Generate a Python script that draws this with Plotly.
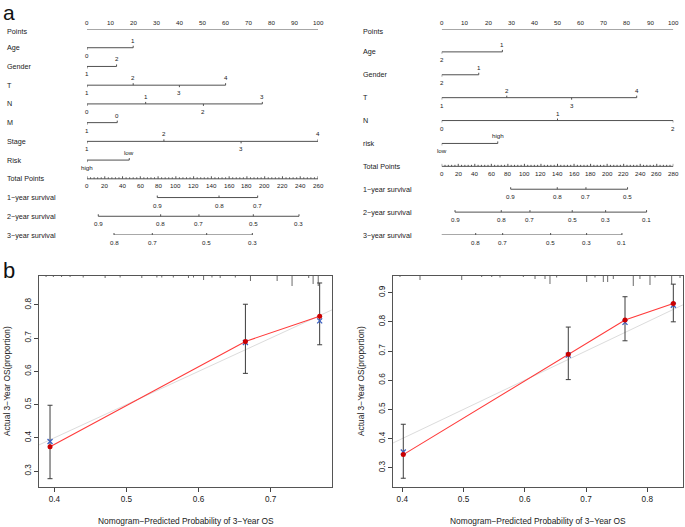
import plotly.graph_objects as go

W, H = 685, 527
FONT = "Liberation Sans, Arial, sans-serif"
TXT = "#1a1a1a"
NOMO_LINE = "#505050"

# ---------------- Nomogram a (left) ----------------
A_vars = ["Age", "Gender", "T", "N", "M", "Stage", "Risk"]
A_levels = [["0", "1"], ["1", "2"], ["1", "2", "3", "4"], ["0", "1", "2", "3"],
            ["1", "0"], ["1", "2", "3", "4"], ["high", "low"]]
A_points = [[0, 20], [0, 12.8], [0, 20, 40, 60], [0, 25.4, 50.4, 75.9],
            [0, 13.1], [0, 33.3, 66.7, 100], [0, 18.3]]
A_total_max = 260
A_surv_names = ["1\u2212year survival", "2\u2212year survival", "3\u2212year survival"]
A_surv_labels = [["0.9", "0.8", "0.7"],
                 ["0.9", "0.8", "0.7", "0.5", "0.3"],
                 ["0.8", "0.7", "0.5", "0.3"]]
A_surv_total = [[79.1, 148.6, 192.1],
                [12.7, 82.9, 126.0, 187.2, 238.6],
                [30.4, 73.5, 134.7, 186.1]]

# ---------------- Nomogram a (right) ----------------
B_vars = ["Age", "Gender", "T", "N", "risk"]
B_levels = [["2", "1"], ["2", "1"], ["1", "2", "3", "4"], ["0", "1", "2"], ["low", "high"]]
B_points = [[0, 26.2], [0, 16.0], [0, 28.1, 56.1, 84.2], [0, 50, 100], [0, 24.2]]
B_total_max = 280
B_surv_names = ["1\u2212year survival", "2\u2212year survival", "3\u2212year survival"]
B_surv_labels = [["0.9", "0.8", "0.7", "0.5"],
                 ["0.9", "0.8", "0.7", "0.5", "0.3", "0.1"],
                 ["0.9", "0.8", "0.7", "0.5", "0.3", "0.1"]]
B_surv_total = [[83.4, 139.7, 174.4, 224.7],
                [16.1, 72.0, 106.7, 157.8, 198.2, 247.7],
                [-14.1, 41.1, 73.7, 131.7, 175.2, 217.9]]

# ---------------- Calibration b (left) ----------------
C1_pred = [0.394, 0.665, 0.768]
C1_obs = [0.373, 0.690, 0.766]
C1_km = [0.389, 0.687, 0.752]
C1_lo = [0.277, 0.594, 0.680]
C1_hi = [0.498, 0.802, 0.866]
C1_rug_x = [0.3885, 0.3986, 0.410, 0.4218, 0.440, 0.4704, 0.4912, 0.5213, 0.5422, 0.549,
            0.565, 0.586, 0.593, 0.607, 0.6186, 0.630, 0.651, 0.672, 0.709, 0.7297,
            0.7528, 0.7589, 0.766]
C1_rug_n = [1, 1, 1, 1, 1.5, 2, 1.5, 2, 1.5, 1.5, 1.5, 2, 1.5, 4, 1.5, 2, 1.5, 5, 5, 10, 2, 8, 10]

# ---------------- Calibration b (right) ----------------
C2_pred = [0.4016, 0.671, 0.7636, 0.8425]
C2_obs = [0.345, 0.689, 0.806, 0.863]
C2_km = [0.354, 0.686, 0.798, 0.857]
C2_lo = [0.264, 0.602, 0.735, 0.800]
C2_hi = [0.449, 0.782, 0.886, 0.929]
C2_rug_x = [0.3962, 0.4289, 0.497, 0.5296, 0.546, 0.5595, 0.5976, 0.6167, 0.633, 0.6411,
            0.652, 0.701, 0.7146, 0.7282, 0.7353, 0.7445, 0.7771, 0.788, 0.8044, 0.8126,
            0.8398, 0.8534]
C2_rug_n = [1, 4, 4, 1, 1, 1.5, 1, 3, 3, 8, 1.5, 6, 1.5, 6, 6, 3, 10, 3, 9, 1.5, 8, 2]

X_TITLE = "Nomogram\u2212Predicted Probability of 3\u2212Year OS"
Y_TITLE = "Actual 3\u2212Year OS(proportion)"

fig = go.Figure()
ann = []


def draw_nomogram(xn, yn, x0px, x1px, ytop, ybot, labx, vars_, levels, pts,
                  total_max, surv_names, surv_labels, surv_total):
    nrows = 1 + len(vars_) + 1 + len(surv_names)
    rowpx = (ybot - ytop) / (nrows - 1)
    u = 1.0 / rowpx
    xs, ys = [], []

    def seg(a, b, c, d):
        xs.extend([a, c, None])
        ys.extend([b, d, None])

    def lab(x, row, text, above, dy=7):
        ann.append(dict(x=x, y=row, xref=xn, yref=yn, text=text, showarrow=False,
                        yshift=dy if above else -dy, xanchor="center", yanchor="middle",
                        font=dict(size=6.2, color=TXT, family=FONT)))

    def rowlab(row, text, dy=0):
        ann.append(dict(x=labx / W, y=row, xref="paper", yref=yn, text=text,
                        showarrow=False, xanchor="left", yanchor="middle", yshift=dy,
                        font=dict(size=7.2, color=TXT, family=FONT)))

    # Points axis
    rowlab(0, "Points", -2)
    seg(0, 0, 100, 0)
    for v in range(0, 101, 2):
        L = 2.5 if v % 10 == 0 else 1.3
        seg(v, 0, v, -L * u)
    for v in range(0, 101, 10):
        lab(v, 0, str(v), True, 7)
    # variables
    for i, (nm, lv, pp) in enumerate(zip(vars_, levels, pts)):
        r = i + 1
        rowlab(r, nm)
        seg(min(pp), r, max(pp), r)
        for j, (l, p) in enumerate(zip(lv, pp)):
            above = (j % 2 == 1)
            seg(p, r, p, r + (-2 * u if above else 2 * u))
            lab(p, r, l, above, 7.5)
    # total points
    r = len(vars_) + 1
    k = 100.0 / total_max
    rowlab(r, "Total Points")
    seg(0, r, total_max * k, r)
    for v in range(0, total_max + 1, 4):
        L = 2.5 if v % 20 == 0 else 1.5
        seg(v * k, r, v * k, r - L * u)
    for v in range(0, total_max + 1, 20):
        lab(v * k, r, str(v), False, 7)
    # survival axes
    for i, (nm, sl, st) in enumerate(zip(surv_names, surv_labels, surv_total)):
        rr = r + 1 + i
        rowlab(rr, nm)
        seg(min(st) * k, rr, max(st) * k, rr)
        for l, t in zip(sl, st):
            seg(t * k, rr, t * k, rr - 2 * u)
            lab(t * k, rr, l, False, 7.5)

    fig.add_trace(go.Scatter(x=xs, y=ys, mode="lines", xaxis=xn, yaxis=yn,
                             line=dict(color=NOMO_LINE, width=1), hoverinfo="skip",
                             showlegend=False))
    ax = dict(domain=[x0px / W, x1px / W], range=[0, 100], visible=False,
              fixedrange=True)
    ay = dict(domain=[1 - ybot / H, 1 - ytop / H], range=[nrows - 1, 0], visible=False,
              fixedrange=True)
    return ax, ay


ax3, ay3 = draw_nomogram("x3", "y3", 87, 318, 29, 235, 5, A_vars, A_levels, A_points,
                         A_total_max, A_surv_names, A_surv_labels, A_surv_total)
ax4, ay4 = draw_nomogram("x4", "y4", 441.7, 673.3, 29, 235, 361, B_vars, B_levels,
                         B_points, B_total_max, B_surv_names, B_surv_labels, B_surv_total)
ax3["anchor"] = "y3"; ay3["anchor"] = "x3"
ax4["anchor"] = "y4"; ay4["anchor"] = "x4"


def draw_calib(xn, yn, pred, obs, km, lo, hi, rug_x, rug_n, yr, ypx_per_unit):
    fig.add_trace(go.Scatter(x=[0, 1], y=[0, 1], mode="lines", xaxis=xn, yaxis=yn,
                             line=dict(color="#dcdcdc", width=1), hoverinfo="skip",
                             showlegend=False))
    rx, ry = [], []
    for x, n in zip(rug_x, rug_n):
        rx.extend([x, x, None])
        ry.extend([yr[1], yr[1] - n * 1.0 / ypx_per_unit, None])
    fig.add_trace(go.Scatter(x=rx, y=ry, mode="lines", xaxis=xn, yaxis=yn,
                             line=dict(color="#6a6a6a", width=1), hoverinfo="skip",
                             showlegend=False))
    fig.add_trace(go.Scatter(x=pred, y=obs, mode="markers", xaxis=xn, yaxis=yn,
                             marker=dict(size=1, color="rgba(0,0,0,0)"),
                             error_y=dict(type="data", symmetric=False,
                                          array=[h - o for h, o in zip(hi, obs)],
                                          arrayminus=[o - l for o, l in zip(obs, lo)],
                                          color="#3c3c3c", thickness=1, width=2.5),
                             hoverinfo="skip", showlegend=False))
    fig.add_trace(go.Scatter(x=pred, y=obs, mode="lines", xaxis=xn, yaxis=yn,
                             line=dict(color="#ff3b3b", width=1.1), hoverinfo="skip",
                             showlegend=False))
    fig.add_trace(go.Scatter(x=pred, y=km, mode="markers", xaxis=xn, yaxis=yn,
                             marker=dict(symbol="x-thin", size=5,
                                         line=dict(color="#3a5fc0", width=1.3)),
                             hoverinfo="skip", showlegend=False))
    fig.add_trace(go.Scatter(x=pred, y=obs, mode="markers", xaxis=xn, yaxis=yn,
                             marker=dict(symbol="circle", size=5, color="#cc0000"),
                             hoverinfo="skip", showlegend=False))


C1_xr = [0.3787, 0.7851]
C1_yr = [0.252, 0.887]
C2_xr = [0.3848, 0.8583]
C2_yr = [0.234, 0.957]
draw_calib("x", "y", C1_pred, C1_obs, C1_km, C1_lo, C1_hi, C1_rug_x, C1_rug_n, C1_yr, 332)
draw_calib("x2", "y2", C2_pred, C2_obs, C2_km, C2_lo, C2_hi, C2_rug_x, C2_rug_n, C2_yr, 292)


def cax(dom_px, rng, tv, anchor):
    return dict(domain=[dom_px[0] / W, dom_px[1] / W], range=rng, tickvals=tv,
                ticktext=[f"{v:.1f}" for v in tv], ticks="outside", ticklen=4,
                tickcolor="#444", tickwidth=1, showline=True, linecolor="#555",
                linewidth=1, mirror=True, showgrid=False, zeroline=False,
                tickfont=dict(size=8.2, family=FONT, color=TXT), anchor=anchor,
                fixedrange=True)


def cay(dom_py, rng, tv, anchor):
    d = cax([0, 1], rng, tv, anchor)
    d["domain"] = [1 - dom_py[1] / H, 1 - dom_py[0] / H]
    d["tickangle"] = -90
    return d


fig.update_layout(
    width=W, height=H, margin=dict(l=0, r=0, t=0, b=0),
    paper_bgcolor="white", plot_bgcolor="white", showlegend=False,
    xaxis=cax([39, 332], C1_xr, [0.4, 0.5, 0.6, 0.7], "y"),
    yaxis=cay([276, 487], C1_yr, [0.3, 0.4, 0.5, 0.6, 0.7, 0.8], "x"),
    xaxis2=cax([393, 683], C2_xr, [0.4, 0.5, 0.6, 0.7, 0.8], "y2"),
    yaxis2=cay([276, 487], C2_yr, [0.3, 0.4, 0.5, 0.6, 0.7, 0.8, 0.9], "x2"),
    xaxis3=ax3, yaxis3=ay3, xaxis4=ax4, yaxis4=ay4,
)

for cx, ty in [((39 + 332) / 2, 521), ((393 + 683) / 2, 521)]:
    ann.append(dict(x=cx / W, y=1 - ty / H, xref="paper", yref="paper", text=X_TITLE,
                    showarrow=False, xanchor="center", yanchor="middle",
                    font=dict(size=8.4, family=FONT, color=TXT)))
for lx in [7, 361]:
    ann.append(dict(x=lx / W, y=1 - 381 / H, xref="paper", yref="paper", text=Y_TITLE,
                    showarrow=False, xanchor="center", yanchor="middle", textangle=-90,
                    font=dict(size=8.4, family=FONT, color=TXT)))
ann.append(dict(x=2 / W, y=1, xref="paper", yref="paper", text="a",
                showarrow=False, xanchor="left", yanchor="top", borderpad=0,
                font=dict(size=21, family=FONT, color="#111")))
ann.append(dict(x=1 / W, y=1 - 270 / H, xref="paper", yref="paper", text="b",
                showarrow=False, xanchor="left", yanchor="middle",
                font=dict(size=22, family=FONT, color="#111")))

fig.update_layout(annotations=ann)
fig.write_html("out.html", config={"displayModeBar": False},
               post_script="document.body.style.margin='0';document.body.style.overflow='hidden';")
